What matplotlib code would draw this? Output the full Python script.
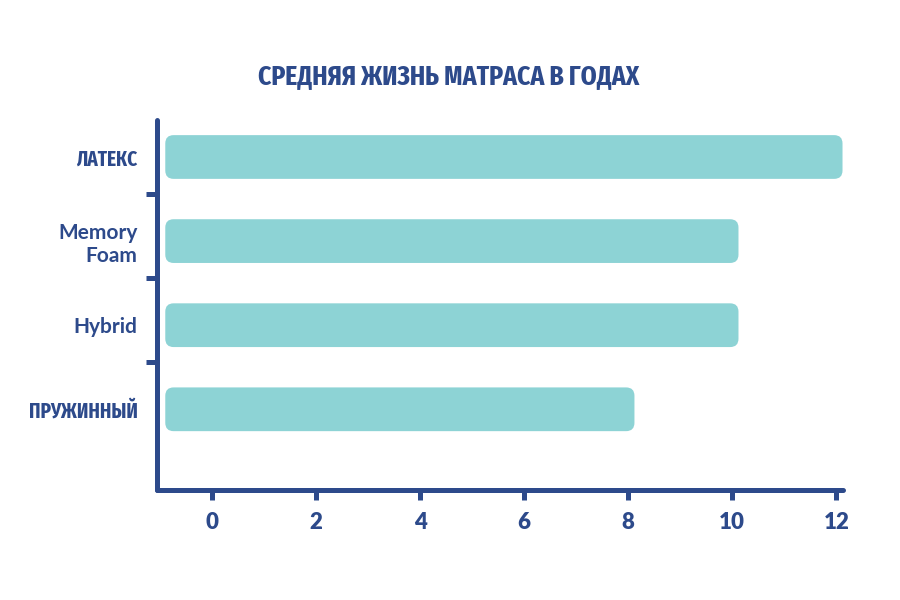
import numpy as np
import matplotlib
matplotlib.use("Agg")
import matplotlib.pyplot as plt
from matplotlib import font_manager as fm
from matplotlib.patches import FancyBboxPatch
from matplotlib.ticker import FixedLocator

# ── data ─────────────────────────────────────────────────────────────────────
TITLE      = "СРЕДНЯЯ ЖИЗНЬ МАТРАСА В ГОДАХ"
categories = ["ЛАТЕКС", "Memory\nFoam", "Hybrid", "ПРУЖИННЫЙ"]
years      = [12, 10, 10, 8]
x_ticks    = [0, 2, 4, 6, 8, 10, 12]

NAVY = "#2D4A8B"
TEAL = "#8DD3D5"
ROUND = ["Lato", "DejaVu Sans"]

# find the narrowest bold face installed for the headline style
def stretch_rank(f):
    n = f.name.replace(" ", "") + " " + str(f.fname)
    s = str(f.stretch)
    if "ExtraCondensed" in n or "UltraCondensed" in n or s in ("extra-condensed", "ultra-condensed"):
        return 3
    if "SemiCondensed" in n or s == "semi-condensed":
        return 1
    if "Condensed" in n or "Narrow" in n or s == "condensed":
        return 2
    return 0

def pick_narrow():
    best = None
    for f in fm.fontManager.ttflist:
        r = stretch_rank(f)
        if r == 0:
            continue
        w = f.weight if isinstance(f.weight, int) else (700 if "bold" in str(f.weight) else 400)
        score = r * 1000 - abs(w - 700) - (500 if f.style != "normal" else 0)
        if best is None or score > best[0]:
            best = (score, f.fname)
    return best[1] if best else None

narrow_file = pick_narrow()

def narrow_props(size):
    if narrow_file:
        return fm.FontProperties(fname=narrow_file, size=size)
    return fm.FontProperties(family="DejaVu Sans", weight="bold", size=size * 0.68)

fig = plt.figure(figsize=(9, 6), dpi=100)
ax = fig.add_axes([0.1744, 0.1833, 0.9367 - 0.1744, 0.80 - 0.1833])

ax.set_xlim(-1.06, 12.13)
ax.set_ylim(3.96, -0.44)

# ── rounded bars ─────────────────────────────────────────────────────────────
bar_start = -0.9      # bars begin just right of the spine
bar_h     = 0.52
aspect    = 52 / 84   # px per x-unit / px per y-unit, keeps corners round
for i, v in enumerate(years):
    p = FancyBboxPatch((bar_start, i - bar_h / 2), v + 0.12 - bar_start, bar_h,
                       boxstyle="round,pad=0,rounding_size=0.16",
                       mutation_aspect=aspect, fc=TEAL, ec="none", zorder=2)
    ax.add_patch(p)

# ── spines & ticks ───────────────────────────────────────────────────────────
for s in ["top", "right"]:
    ax.spines[s].set_visible(False)
for s in ["left", "bottom"]:
    ax.spines[s].set_color(NAVY)
    ax.spines[s].set_linewidth(3.6)
    ax.spines[s].set_capstyle("round")

ax.set_xticks(x_ticks)
ax.set_xticklabels([str(t) for t in x_ticks])
ax.tick_params(axis="x", direction="out", length=7, width=3.6, color=NAVY,
               pad=9, labelcolor=NAVY)
for lab in ax.get_xticklabels():
    lab.set_family(ROUND)
    lab.set_fontweight("heavy")
    lab.set_fontsize(16)

ax.set_yticks(range(len(categories)))
ax.set_yticklabels(categories)
ax.tick_params(axis="y", which="major", length=0, pad=14, labelcolor=NAVY)
ax.yaxis.set_minor_locator(FixedLocator([i + 0.44 for i in range(len(categories) - 1)]))
ax.tick_params(axis="y", which="minor", direction="out", length=8, width=3.6,
               color=NAVY)

for lab in ax.get_yticklabels():
    txt = lab.get_text()
    lab.set_multialignment("right")
    if txt.isupper():
        lab.set_fontproperties(narrow_props(15))
    else:
        lab.set_family(ROUND)
        lab.set_fontweight("bold")
        lab.set_fontsize(15)
        lab.set_linespacing(1.2)

title = fig.text(0.499, 0.873, TITLE, ha="center", va="center", color=NAVY,
                 fontproperties=narrow_props(20))

# shrink the condensed texts if the found face runs wider than the original
fig.canvas.draw()
r = fig.canvas.get_renderer()
targets = {"ЛАТЕКС": 57 * 1.22, "ПРУЖИННЫЙ": 112 * 1.2}
for lab in ax.get_yticklabels():
    want = targets.get(lab.get_text())
    if want:
        w = lab.get_window_extent(r).width
        if w > want:
            lab.set_fontsize(lab.get_fontsize() * max(want / w, 0.72))
w = title.get_window_extent(r).width
want = 382 * 1.1
if w > want:
    title.set_fontsize(title.get_fontsize() * max(want / w, 0.78))

fig.savefig("out.png", dpi=100, facecolor="white")
